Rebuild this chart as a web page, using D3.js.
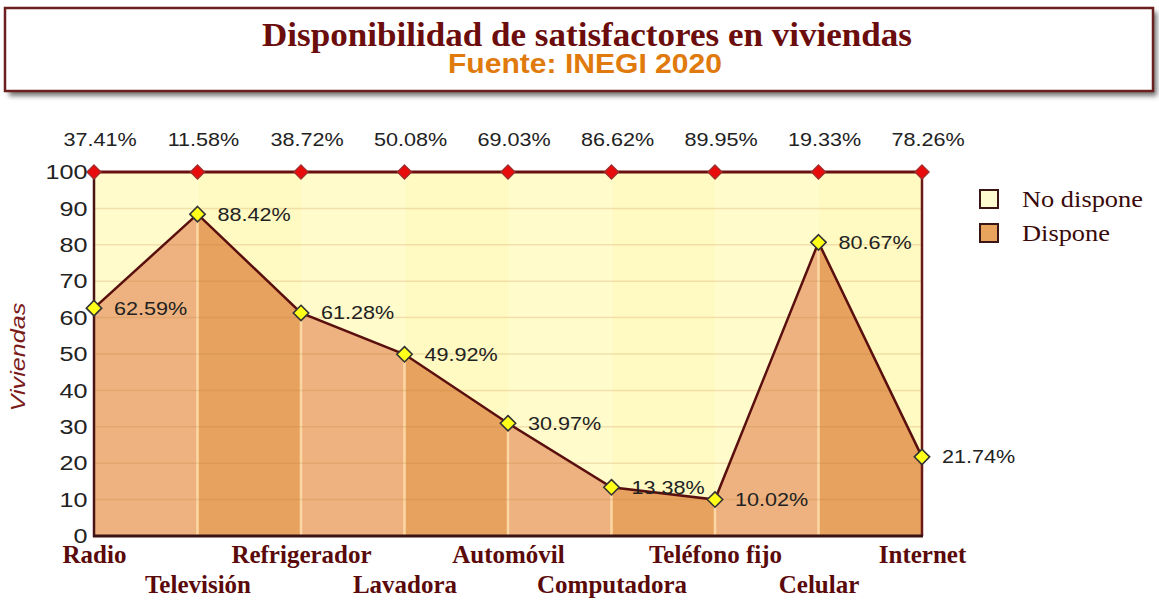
<!DOCTYPE html>
<html lang="es">
<head>
<meta charset="UTF-8">
<title>Disponibilidad de satisfactores en viviendas</title>
<script src="https://cdn.jsdelivr.net/npm/d3@7"></script>
<style>
    body { margin: 0; background: #fff; }
    svg { display: block; }
</style>
</head>
<body>
<script>
    // datos
    var categorias = ["Radio", "Televisión", "Refrigerador", "Lavadora", "Automóvil",
        "Computadora", "Teléfono fijo", "Celular", "Internet"];
    var dispone = [62.59, 88.42, 61.28, 49.92, 30.97, 13.38, 10.02, 80.67, 21.74];
    var noDispone = [37.41, 11.58, 38.72, 50.08, 69.03, 86.62, 89.95, 19.33, 78.26];
    var yTicks = [0, 10, 20, 30, 40, 50, 60, 70, 80, 90, 100];

    var width = 1159, height = 602;
    var pLeft = 94, pRight = 922, pTop = 172, pBottom = 536;

    // el original tiene el texto algo ensanchado
    var ancho = 1.2;

    var svg = d3.select("body").append("svg")
        .attr("width", width).attr("height", height);

    var defs = svg.append("defs");
    var sh = defs.append("filter").attr("id", "sombra")
        .attr("x", "-5%").attr("y", "-20%").attr("width", "110%").attr("height", "150%");
    sh.append("feGaussianBlur").attr("stdDeviation", 2.5);

    // caja del titulo
    svg.append("rect").attr("x", 9).attr("y", 12).attr("width", 1148).attr("height", 84)
        .attr("fill", "#777").attr("filter", "url(#sombra)");
    svg.append("rect").attr("x", 5).attr("y", 8).attr("width", 1148).attr("height", 83)
        .attr("fill", "#fff").attr("stroke", "#6b1f1f").attr("stroke-width", 2.5);
    svg.append("text").attr("x", 587).attr("y", 46)
        .attr("text-anchor", "middle")
        .attr("textLength", 650).attr("lengthAdjust", "spacingAndGlyphs")
        .style("font", "bold 34px 'Liberation Serif', serif").style("fill", "#6b0d0d")
        .text("Disponibilidad de satisfactores en viviendas");
    svg.append("text").attr("x", 585).attr("y", 73)
        .attr("text-anchor", "middle")
        .attr("textLength", 274).attr("lengthAdjust", "spacingAndGlyphs")
        .style("font", "bold 27px 'Liberation Sans', Arial, sans-serif").style("fill", "#e07a0c")
        .text("Fuente: INEGI 2020");

    // escalas
    var x = d3.scalePoint().domain(categorias).range([pLeft, pRight]);
    var y = d3.scaleLinear().domain([0, 100]).range([pBottom, pTop]);

    var tabla = categorias.map(function (c, i) {
        return { cat: c, dispone: dispone[i], noDispone: noDispone[i] };
    });
    var serie = d3.stack().keys(["dispone", "noDispone"])(tabla);

    var area = d3.area()
        .x(function (d) { return x(d.data.cat); })
        .y0(function (d) { return y(d[0]); })
        .y1(function (d) { return y(d[1]); });

    var g = svg.append("g");

    // columnas de fondo (No dispone)
    var tramos = categorias.slice(0, -1).map(function (c, i) { return [c, categorias[i + 1], i]; });
    g.selectAll(".fondo").data(tramos).enter().append("rect")
        .attr("x", function (d) { return x(d[0]); })
        .attr("width", function (d) { return x(d[1]) - x(d[0]); })
        .attr("y", y(100)).attr("height", y(0) - y(100))
        .attr("fill", function (d) { return d[2] % 2 ? "#fff9c2" : "#fffbcb"; });

    // area Dispone con columnas alternadas
    defs.append("clipPath").attr("id", "clipDispone")
        .append("path").attr("d", area(serie[0]));

    var gd = g.append("g").attr("clip-path", "url(#clipDispone)");
    gd.selectAll(".col").data(tramos).enter().append("rect")
        .attr("x", function (d) { return x(d[0]); })
        .attr("width", function (d) { return x(d[1]) - x(d[0]); })
        .attr("y", y(100)).attr("height", y(0) - y(100))
        .attr("fill", function (d) { return d[2] % 2 ? "#e6a25e" : "#edb27f"; });
    gd.selectAll(".sep").data(categorias.slice(1, -1)).enter().append("line")
        .attr("x1", function (d) { return x(d); }).attr("x2", function (d) { return x(d); })
        .attr("y1", y(100)).attr("y2", y(0))
        .attr("stroke", "#fbd7a4").attr("stroke-width", 2.5);

    // rejilla
    g.selectAll(".rej").data(yTicks.slice(1, -1)).enter().append("line")
        .attr("x1", pLeft).attr("x2", pRight)
        .attr("y1", function (d) { return y(d); }).attr("y2", function (d) { return y(d); })
        .attr("stroke", "#b87a30").attr("stroke-opacity", 0.2).attr("stroke-width", 1.5);

    // bordes
    g.append("line").attr("x1", pRight).attr("x2", pRight).attr("y1", y(100)).attr("y2", y(0))
        .attr("stroke", "#6b1a1a").attr("stroke-width", 2.5);
    g.append("line").attr("x1", pLeft).attr("x2", pLeft).attr("y1", y(100)).attr("y2", y(0) + 1)
        .attr("stroke", "#4a1515").attr("stroke-width", 2.5);
    g.append("line").attr("x1", pLeft - 1).attr("x2", pRight + 1).attr("y1", y(0)).attr("y2", y(0))
        .attr("stroke", "#3a1212").attr("stroke-width", 3);

    // lineas
    var linea = d3.line()
        .x(function (d) { return x(d.data.cat); })
        .y(function (d) { return y(d[1]); });
    g.append("path").attr("d", linea(serie[1]))
        .attr("fill", "none").attr("stroke", "#6b1010").attr("stroke-width", 3);
    g.append("path").attr("d", linea(serie[0]))
        .attr("fill", "none").attr("stroke", "#5a0f0f").attr("stroke-width", 2.5);

    // marcadores
    var rombo = d3.symbol().type(d3.symbolDiamond2).size(150);
    g.selectAll(".rojo").data(serie[1]).enter().append("path")
        .attr("d", d3.symbol().type(d3.symbolDiamond2).size(130))
        .attr("transform", function (d) { return "translate(" + x(d.data.cat) + "," + y(d[1]) + ")"; })
        .attr("fill", "#e80c0c").attr("stroke", "#9a3030").attr("stroke-width", 1.2);
    g.selectAll(".amarillo").data(serie[0]).enter().append("path")
        .attr("d", rombo)
        .attr("transform", function (d) { return "translate(" + x(d.data.cat) + "," + y(d[1]) + ")"; })
        .attr("fill", "#ffff1a").attr("stroke", "#333").attr("stroke-width", 1.6);

    // etiquetas de valores
    var fuenteNum = "18px 'Liberation Sans', Arial, sans-serif";
    g.selectAll(".etSup").data(tabla).enter().append("text")
        .attr("transform", function (d) { return "translate(" + (x(d.cat) + 6) + ",146) scale(" + ancho + ",1)"; })
        .attr("text-anchor", "middle")
        .style("font", fuenteNum).style("fill", "#222")
        .text(function (d) { return d.noDispone.toFixed(2) + "%"; });
    g.selectAll(".etDisp").data(tabla).enter().append("text")
        .attr("transform", function (d) {
            return "translate(" + (x(d.cat) + 20) + "," + y(d.dispone) + ") scale(" + ancho + ",1)";
        })
        .attr("dy", "0.36em")
        .style("font", fuenteNum).style("fill", "#222")
        .text(function (d) { return d.dispone.toFixed(2) + "%"; });

    // eje Y
    var ejeY = g.append("g").attr("transform", "translate(" + (pLeft - 4) + ",0)")
        .call(d3.axisLeft(y).tickValues(yTicks).tickSize(0).tickPadding(2));
    ejeY.select(".domain").remove();
    ejeY.selectAll("text")
        .attr("transform", "scale(" + ancho + ",1)")
        .style("font", "21px 'Liberation Sans', Arial, sans-serif").style("fill", "#222");

    svg.append("text").attr("transform", "translate(25,357) rotate(-90) scale(" + ancho + ",1)")
        .attr("text-anchor", "middle")
        .style("font", "italic 21px 'Liberation Sans', Arial, sans-serif").style("fill", "#7a1a1a")
        .text("Viviendas");

    // eje X escalonado
    var ejeX = g.append("g").attr("transform", "translate(0," + pBottom + ")")
        .call(d3.axisBottom(x).tickSize(0));
    ejeX.select(".domain").remove();
    ejeX.selectAll("text")
        .attr("y", function (d, i) { return i % 2 ? 57 : 27; }).attr("dy", 0)
        .style("font", "bold 25px 'Liberation Serif', serif").style("fill", "#5a0a0a");

    // leyenda
    var leyenda = [["No dispone", "#fffbd0"], ["Dispone", "#e8a45c"]];
    var lg = svg.append("g").selectAll("g").data(leyenda).enter().append("g")
        .attr("transform", function (d, i) { return "translate(980," + (190 + i * 34) + ")"; });
    lg.append("rect").attr("width", 18).attr("height", 18)
        .attr("fill", function (d) { return d[1]; })
        .attr("stroke", "#3a1515").attr("stroke-width", 2);
    lg.append("text").attr("transform", "translate(42,17) scale(1.1,1)")
        .style("font", "24px 'Liberation Serif', serif").style("fill", "#3a0a0a")
        .text(function (d) { return d[0]; });
</script>
</body>
</html>
